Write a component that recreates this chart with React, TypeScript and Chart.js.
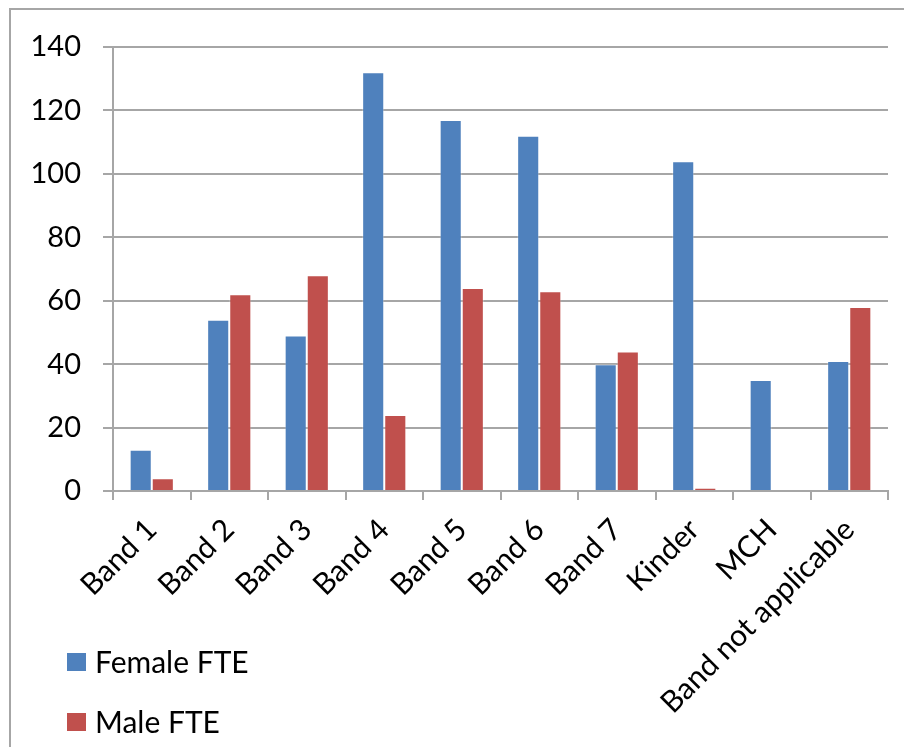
import React, { useEffect, useRef } from "react";
import { Chart, registerables } from "chart.js";

Chart.register(...registerables);

const categories = [
  "Band 1",
  "Band 2",
  "Band 3",
  "Band 4",
  "Band 5",
  "Band 6",
  "Band 7",
  "Kinder",
  "MCH",
  "Band not applicable",
];
const femaleFTE = [13, 54, 49, 132, 117, 112, 40, 104, 35, 41];
const maleFTE = [4, 62, 68, 24, 64, 63, 44, 1, 0, 58];
const seriesLabels = ["Female FTE", "Male FTE"];
const seriesColors = ["#4F81BD", "#C0504D"];
const yTicks = { min: 0, max: 140, step: 20 };

const FONT = "Lato, 'Liberation Sans', sans-serif";
const GRID = "#A6A6A6";

const legendPlugin = {
  id: "sideLegend",
  afterDraw(chart: any) {
    const ctx = chart.ctx;
    ctx.save();
    ctx.font = `30px ${FONT}`;
    ctx.textBaseline = "middle";
    ctx.textAlign = "left";
    chart.data.datasets.forEach((ds: any, i: number) => {
      const y = 662 + i * 60;
      ctx.fillStyle = ds.backgroundColor;
      ctx.fillRect(67, y - 9, 19, 18);
      ctx.fillStyle = "#000";
      ctx.fillText(ds.label, 95, y + 1);
    });
    ctx.restore();
  },
};

export default function App() {
  const ref = useRef<HTMLCanvasElement>(null);
  useEffect(() => {
    if (!ref.current) return;
    const chart = new Chart(ref.current, {
      type: "bar",
      data: {
        labels: categories,
        datasets: [
          {
            label: seriesLabels[0],
            data: femaleFTE,
            backgroundColor: seriesColors[0],
            borderColor: "rgba(255,255,255,0.3)",
            borderWidth: 1,
            categoryPercentage: 0.57,
            barPercentage: 1,
          },
          {
            label: seriesLabels[1],
            data: maleFTE,
            backgroundColor: seriesColors[1],
            borderColor: "rgba(255,255,255,0.3)",
            borderWidth: 1,
            categoryPercentage: 0.57,
            barPercentage: 1,
          },
        ],
      },
      options: {
        responsive: false,
        animation: false,
        devicePixelRatio: 1,
        layout: { padding: { top: 47, right: 16, left: 0, bottom: 0 } },
        plugins: {
          legend: { display: false },
          tooltip: { enabled: false },
        },
        scales: {
          x: {
            afterFit(scale: any) {
              scale.height = 256;
            },
            grid: {
              offset: true,
              drawOnChartArea: false,
              drawTicks: true,
              tickLength: 9,
              color: GRID,
              lineWidth: 2,
            },
            border: { display: true, color: GRID, width: 2 },
            ticks: {
              autoSkip: false,
              maxRotation: 45,
              minRotation: 45,
              padding: 12,
              color: "#000",
              font: { family: FONT, size: 30 },
            },
          },
          y: {
            min: yTicks.min,
            max: yTicks.max,
            afterFit(scale: any) {
              scale.width = 113;
            },
            grid: {
              drawTicks: true,
              tickLength: 10,
              color: GRID,
              lineWidth: 2,
            },
            border: { display: true, color: GRID, width: 2 },
            ticks: {
              stepSize: yTicks.step,
              padding: 22,
              color: "#000",
              font: { family: FONT, size: 29 },
            },
          },
        },
      },
      plugins: [legendPlugin],
    });
    return () => chart.destroy();
  }, []);

  return (
    <div
      style={{
        position: "fixed",
        left: 0,
        top: 0,
        width: 904,
        height: 747,
        overflow: "hidden",
        background: "#fff",
      }}
    >
      <div
        style={{
          position: "absolute",
          left: 9,
          top: 8,
          width: 1000,
          height: 1000,
          borderLeft: `2px solid ${GRID}`,
          borderTop: `2px solid ${GRID}`,
        }}
      />
      <canvas
        ref={ref}
        width={904}
        height={747}
        style={{ position: "absolute", left: 0, top: 0, width: 904, height: 747 }}
      />
    </div>
  );
}
